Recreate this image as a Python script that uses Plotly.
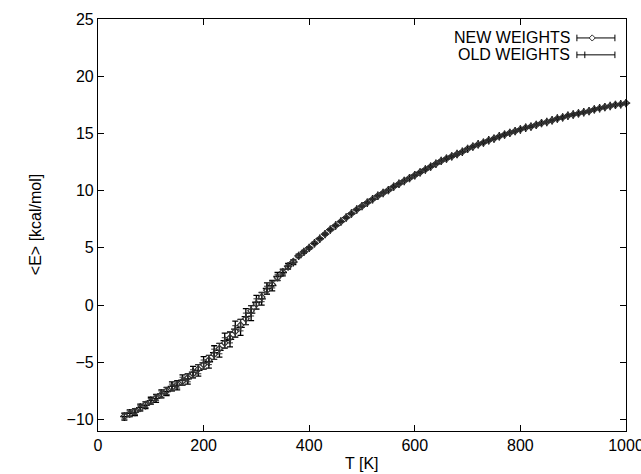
import plotly.graph_objects as go

# Temperature grid [K]
T = [50, 60, 70, 80, 90, 100, 110, 120, 130, 140, 150, 160, 170, 180, 190,
     200, 210, 220, 230, 240, 250, 260, 270, 280, 290, 300, 310, 320, 330, 340,
     350, 360, 370, 380, 390, 400, 410, 420, 430, 440, 450, 460, 470, 480, 490,
     500, 510, 520, 530, 540, 550, 560, 570, 580, 590, 600, 610, 620, 630, 640,
     650, 660, 670, 680, 690, 700, 710, 720, 730, 740, 750, 760, 770, 780, 790,
     800, 810, 820, 830, 840, 850, 860, 870, 880, 890, 900, 910, 920, 930, 940,
     950, 960, 970, 980, 990, 1000]

# <E> with new weights [kcal/mol]
E_new = [-9.7, -9.5, -9.3, -9.0, -8.7, -8.4, -8.1, -7.8, -7.5, -7.2,
         -6.95, -6.65, -6.35, -6.0, -5.6, -5.2, -4.8, -4.3, -3.8, -3.3,
         -2.85, -2.3, -1.75, -1.2, -0.5, 0.1, 0.7, 1.3, 1.8, 2.4,
         2.9, 3.35, 3.8, 4.3, 4.65, 5.0, 5.4, 5.8, 6.2, 6.6,
         6.95, 7.3, 7.65, 8.0, 8.35, 8.65, 8.95, 9.25, 9.55, 9.8,
         10.05, 10.35, 10.6, 10.85, 11.1, 11.35, 11.6, 11.85, 12.1, 12.35,
         12.6, 12.8, 13.0, 13.2, 13.4, 13.65, 13.85, 14.05, 14.2, 14.4,
         14.55, 14.75, 14.9, 15.05, 15.2, 15.35, 15.5, 15.6, 15.75, 15.9,
         16.0, 16.15, 16.3, 16.4, 16.55, 16.65, 16.75, 16.85, 16.95, 17.1,
         17.2, 17.3, 17.4, 17.5, 17.55, 17.65]
err_new = [0.25, 0.25, 0.25, 0.25, 0.25, 0.25, 0.25, 0.3, 0.3, 0.3,
           0.3, 0.35, 0.35, 0.35, 0.4, 0.4, 0.4, 0.45, 0.45, 0.45,
           0.45, 0.5, 0.5, 0.5, 0.45, 0.45, 0.4, 0.35, 0.3, 0.25,
           0.2, 0.15, 0.15, 0.1, 0.1, 0.1, 0.08, 0.08, 0.08, 0.06,
           0.06, 0.06, 0.05, 0.05, 0.05, 0.05, 0.05, 0.05, 0.05, 0.05,
           0.05, 0.05, 0.05, 0.05, 0.05, 0.05, 0.05, 0.05, 0.05, 0.05,
           0.05, 0.05, 0.05, 0.05, 0.05, 0.05, 0.05, 0.05, 0.05, 0.05,
           0.05, 0.05, 0.05, 0.05, 0.05, 0.05, 0.05, 0.05, 0.05, 0.05,
           0.05, 0.05, 0.05, 0.05, 0.05, 0.05, 0.05, 0.05, 0.05, 0.05,
           0.05, 0.05, 0.05, 0.05, 0.05, 0.05]

# <E> with old weights [kcal/mol]
E_old = [-9.75, -9.45, -9.35, -8.95, -8.75, -8.35, -8.15, -7.75, -7.55, -7.1,
         -7.0, -6.55, -6.45, -5.85, -5.7, -5.05, -4.95, -4.15, -3.95, -3.1,
         -3.0, -2.1, -1.95, -1.0, -0.7, 0.25, 0.55, 1.45, 1.7, 2.5,
         2.85, 3.4, 3.75, 4.3, 4.65, 5.0, 5.4, 5.8, 6.2, 6.6,
         6.95, 7.3, 7.65, 8.0, 8.35, 8.65, 8.95, 9.25, 9.55, 9.8,
         10.05, 10.35, 10.6, 10.85, 11.1, 11.35, 11.6, 11.85, 12.1, 12.35,
         12.6, 12.8, 13.0, 13.2, 13.4, 13.65, 13.85, 14.05, 14.2, 14.4,
         14.55, 14.75, 14.9, 15.05, 15.2, 15.35, 15.5, 15.6, 15.75, 15.9,
         16.0, 16.15, 16.3, 16.4, 16.55, 16.65, 16.75, 16.85, 16.95, 17.1,
         17.2, 17.3, 17.4, 17.5, 17.55, 17.65]
err_old = [0.3, 0.3, 0.3, 0.3, 0.3, 0.3, 0.35, 0.35, 0.35, 0.4,
           0.4, 0.45, 0.45, 0.5, 0.5, 0.55, 0.55, 0.6, 0.6, 0.65,
           0.65, 0.7, 0.7, 0.7, 0.65, 0.6, 0.55, 0.5, 0.45, 0.35,
           0.3, 0.25, 0.2, 0.15, 0.12, 0.1, 0.1, 0.08, 0.08, 0.08,
           0.06, 0.06, 0.06, 0.06, 0.06, 0.06, 0.06, 0.06, 0.06, 0.06,
           0.06, 0.06, 0.06, 0.06, 0.06, 0.06, 0.06, 0.06, 0.06, 0.06,
           0.06, 0.06, 0.06, 0.06, 0.06, 0.06, 0.06, 0.06, 0.06, 0.06,
           0.06, 0.06, 0.06, 0.06, 0.06, 0.06, 0.06, 0.06, 0.06, 0.06,
           0.06, 0.06, 0.06, 0.06, 0.06, 0.06, 0.06, 0.06, 0.06, 0.06,
           0.06, 0.06, 0.06, 0.06, 0.06, 0.06]

series_names = ["NEW WEIGHTS", "OLD WEIGHTS"]
x_title = "T [K]"
y_title = "&lt;E&gt; [kcal/mol]"
x_ticks = [0, 200, 400, 600, 800, 1000]
y_ticks = [-10, -5, 0, 5, 10, 15, 20, 25]

FONT = "Liberation Sans, Arial, Helvetica, sans-serif"
FS = 16

fig = go.Figure()
fig.add_trace(go.Scatter(
    x=T, y=E_old, mode="markers", name=series_names[1],
    marker=dict(symbol="cross-thin", size=6, line=dict(color="black", width=1.3)),
    error_y=dict(type="data", array=err_old, color="black", thickness=1.3, width=3),
    showlegend=False, cliponaxis=False))
fig.add_trace(go.Scatter(
    x=T, y=E_new, mode="markers", name=series_names[0],
    marker=dict(symbol="diamond-open", size=5, color="#333333", line=dict(width=1.2)),
    error_y=dict(type="data", array=err_new, color="#333333", thickness=1, width=3),
    showlegend=False, cliponaxis=False))

axis_common = dict(showline=True, linecolor="black", linewidth=1.2, mirror="allticks",
                   ticks="inside", ticklen=6, tickcolor="black", tickwidth=1,
                   showgrid=False, zeroline=False, automargin=False,
                   ticklabeloverflow="allow",
                   tickfont=dict(family=FONT, size=FS, color="black"))

fig.update_xaxes(range=[0, 1000], tickvals=x_ticks, **axis_common)
fig.update_yaxes(range=[-11, 25], tickvals=y_ticks, **axis_common)

# axis titles
fig.add_annotation(xref="paper", yref="paper", x=0.5, y=-0.078, text=x_title,
                   showarrow=False, xanchor="center", yanchor="middle",
                   font=dict(family=FONT, size=FS, color="black"))
fig.add_annotation(xref="paper", yref="paper", x=-0.119, y=0.5, text=y_title,
                   showarrow=False, xanchor="center", yanchor="middle", textangle=-90,
                   font=dict(family=FONT, size=FS, color="black"))

# gnuplot-style key
key_text_x = 0.898
key_y = [0.954, 0.913]
for name, yy in zip(series_names, key_y):
    fig.add_annotation(xref="paper", yref="paper", x=key_text_x, y=yy, text=name,
                       showarrow=False, xanchor="right", yanchor="middle",
                       font=dict(family=FONT, size=FS, color="black"))
    fig.add_shape(type="line", xref="paper", yref="paper", x0=0.907, x1=0.979, y0=yy, y1=yy,
                  line=dict(color="black", width=1))
    for xc in (0.907, 0.979):
        fig.add_shape(type="line", xref="paper", yref="paper", x0=xc, x1=xc,
                      y0=yy - 0.008, y1=yy + 0.008, line=dict(color="black", width=1))
# diamond symbol in key (NEW WEIGHTS)
dx, dy = 0.0057, 0.0075
cx, cy = 0.936, key_y[0]
fig.add_shape(type="path", xref="paper", yref="paper",
              path=f"M {cx-dx} {cy} L {cx} {cy+dy} L {cx+dx} {cy} L {cx} {cy-dy} Z",
              fillcolor="white", line=dict(color="#333333", width=1))
# tick in key (OLD WEIGHTS)
fig.add_shape(type="line", xref="paper", yref="paper", x0=0.922, x1=0.922,
              y0=key_y[1] - 0.008, y1=key_y[1] + 0.008, line=dict(color="black", width=1))

fig.update_layout(
    width=641, height=474,
    margin=dict(l=98, r=15, t=19, b=43),
    paper_bgcolor="white", plot_bgcolor="white",
    font=dict(family=FONT, size=FS, color="black"),
)

fig.write_html(
    "out.html",
    config={"displayModeBar": False},
    post_script="document.body.style.margin='0';document.documentElement.style.overflow='hidden';document.body.style.overflow='hidden';",
)
